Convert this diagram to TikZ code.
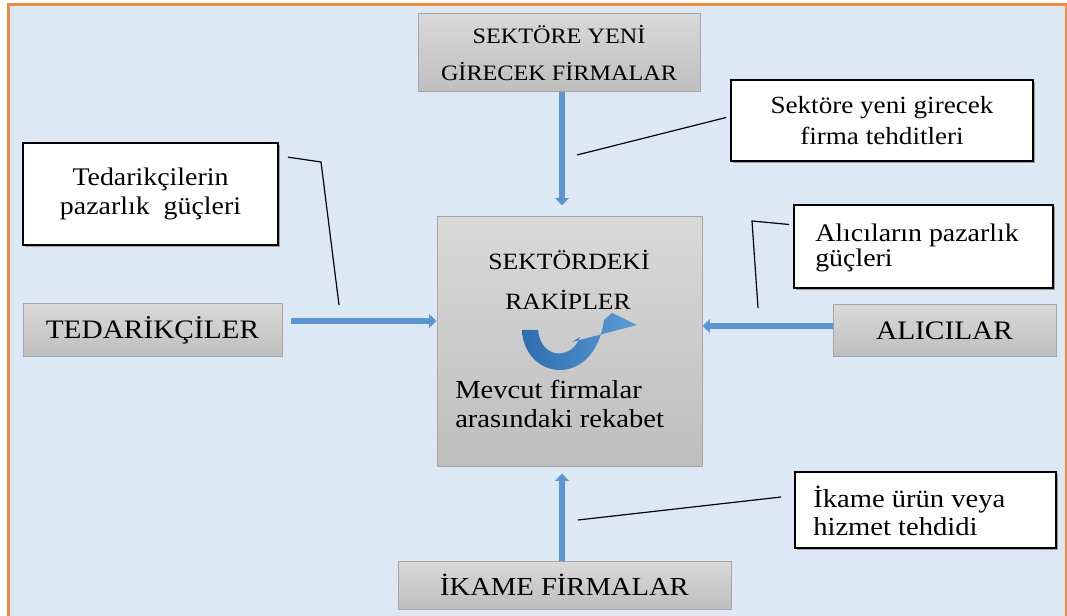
\documentclass[tikz,border=0pt]{standalone}
\usepackage{fontspec}
\setmainfont{Liberation Serif}[FakeStretch=1.1]
\usetikzlibrary{arrows.meta,shadows}

\definecolor{panelbg}{HTML}{DDE8F5}
\definecolor{frameorange}{HTML}{F08A3E}
\definecolor{boxtop}{HTML}{D9D9D9}
\definecolor{boxbot}{HTML}{BEBEBE}
\definecolor{boxedge}{HTML}{A6A6A6}
\definecolor{flowblue}{HTML}{5B96D2}
\definecolor{curldark}{HTML}{2F6DB0}
\definecolor{curllight}{HTML}{5B9BD5}

\begin{document}
\begin{tikzpicture}[x=0.75pt,y=-0.75pt,
  force/.style={draw=boxedge, line width=0.75pt, top color=boxtop, bottom color=boxbot,
                inner sep=0pt, align=center},
  note/.style={draw=black, line width=1.3pt, fill=white, inner sep=0pt, align=center,
               drop shadow={shadow xshift=1.2pt, shadow yshift=-1.2pt, fill=black!45, opacity=0.8}},
  lbl/.style={inner sep=0pt},
  flow/.style={draw=flowblue, line width=4pt, -{Triangle[width=10pt,length=5.5pt]}},
  leader/.style={draw=black, line width=0.9pt},
]
\useasboundingbox (0,0) rectangle (1067,616);

% panel with orange frame
\draw[frameorange, line width=2.25pt, fill=panelbg] (8,5) rectangle (1066,640);

% the five forces
\node[force, minimum width=211.5pt, minimum height=58.5pt,
      font=\fontsize{16.5}{27.75}\selectfont] (entrants) at (559,53)
      {SEKTÖRE YENİ\\GİRECEK FİRMALAR};
\node[force, minimum width=198.75pt, minimum height=186.75pt] (rivals) at (569.5,341.5) {};
\node[force, minimum width=194.25pt, minimum height=39.75pt,
      font=\fontsize{20}{24}\selectfont] (suppliers) at (152.5,330.5) {TEDARİKÇİLER};
\node[force, minimum width=167.25pt, minimum height=39pt,
      font=\fontsize{20}{24}\selectfont] (buyers) at (944.5,331) {ALICILAR};
\node[force, minimum width=249.75pt, minimum height=36pt,
      font=\fontsize{19.5}{22}\selectfont] (substitutes) at (564.5,585) {İKAME FİRMALAR};

% texts of the central box
\node[lbl, anchor=base, font=\fontsize{17.5}{21}\selectfont] (rivalsA) at (569,270) {SEKTÖRDEKİ};
\node[lbl, anchor=base, font=\fontsize{17.5}{21}\selectfont] (rivalsB) at (568,310) {RAKİPLER};
\node[lbl, anchor=base west, font=\fontsize{19.5}{23}\selectfont] (rivalryA) at (455,398) {Mevcut firmalar};
\node[lbl, anchor=base west, font=\fontsize{19.5}{23}\selectfont] (rivalryB) at (455,427) {arasındaki rekabet};

% curved rivalry arrow
\shade[left color=curldark, right color=curllight]
  (522,330) .. controls (524,380) and (594,390) .. (604,320)
  -- (612,313) -- (637,325) -- (572,342) -- (580,337)
  .. controls (572,360) and (541,360) .. (538,330) -- cycle;

% callouts
\node[note, minimum width=226.5pt, minimum height=60.75pt,
      font=\fontsize{18.5}{23}\selectfont] (threatNew) at (882,120.5)
      {Sektöre yeni girecek\\firma tehditleri};
\node[note, minimum width=191.25pt, minimum height=76.5pt,
      font=\fontsize{19}{22}\selectfont] (powerSupp) at (150.5,194)
      {Tedarikçilerin\\pazarlık\ \ güçleri};
\node[note, minimum width=194.25pt, minimum height=62.25pt] (powerBuy) at (923.5,246.5) {};
\node[lbl, anchor=base west, font=\fontsize{19}{22}\selectfont] (powerBuyA) at (815,242) {Alıcıların pazarlık};
\node[lbl, anchor=base west, font=\fontsize{19}{22}\selectfont] (powerBuyB) at (815,267) {güçleri};
\node[note, minimum width=195.75pt, minimum height=57pt] (threatSub) at (925.5,510) {};
\node[lbl, anchor=base west, font=\fontsize{19.5}{22}\selectfont] (threatSubA) at (813,507) {İkame ürün veya};
\node[lbl, anchor=base west, font=\fontsize{19.5}{22}\selectfont] (threatSubB) at (813,535) {hizmet tehdidi};

% leader lines from the callouts
\coordinate (newEnd) at (577,155);
\coordinate (suppBend) at (321,162);
\coordinate (suppEnd) at (339,305);
\coordinate (buyBend) at (752,221);
\coordinate (buyEnd) at (758,308);
\coordinate (subEnd) at (578,520);
\draw[leader] ([shift={(-4,-3)}]threatNew.west) -- (newEnd);
\draw[leader] ([shift={(9,15)}]powerSupp.north east) -- (suppBend) -- (suppEnd);
\draw[leader] ([shift={(-4,-22)}]powerBuy.west) -- (buyBend) -- (buyEnd);
\draw[leader] ([shift={(-13,-13)}]threatSub.west) -- (subEnd);

% force arrows into the central box
\coordinate (vx) at (562,0);
\coordinate (hyL) at (0,321);
\coordinate (hyR) at (0,326);
\draw[flow, shorten >=8.25pt] (entrants.south -| vx) -- (rivals.north -| vx);
\draw[flow, shorten >=5.25pt] (substitutes.north -| vx) -- (rivals.south -| vx);
\draw[flow, shorten <=6pt] (suppliers.east |- hyL) -- (rivals.west |- hyL);
\draw[flow] (buyers.west |- hyR) -- (rivals.east |- hyR);
\end{tikzpicture}
\end{document}
